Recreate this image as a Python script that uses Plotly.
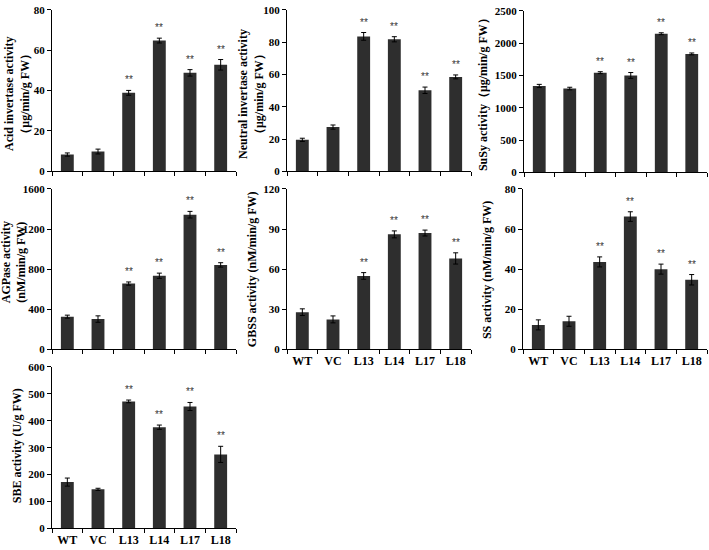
import plotly.graph_objects as go

categories = ["WT", "VC", "L13", "L14", "L17", "L18"]

acid_inv = [8.3, 9.8, 38.9, 64.8, 48.8, 52.8]
acid_inv_err = [0.8, 1.2, 1.2, 1.2, 1.6, 2.6]
neutral_inv = [19.5, 27.4, 83.6, 81.8, 50.2, 58.5]
neutral_inv_err = [1.0, 1.3, 2.4, 1.6, 2.0, 1.2]
susy = [1337, 1297, 1543, 1500, 2146, 1833]
susy_err = [25, 20, 15, 45, 15, 15]
agpase = [326, 302, 656, 734, 1343, 842]
agpase_err = [15, 32, 16, 26, 33, 22]
gbss = [27.8, 22.4, 54.9, 86.0, 87.0, 68.0]
gbss_err = [2.5, 2.6, 2.5, 2.6, 2.2, 4.2]
ss = [12.2, 14.0, 43.6, 66.2, 40.0, 34.7]
ss_err = [2.5, 2.5, 2.5, 2.4, 2.5, 2.6]
sbe = [172, 145, 472, 376, 453, 275]
sbe_err = [15, 4, 5, 8, 15, 30]

significant = ["", "", "**", "**", "**", "**"]

W, H = 709, 550

panels = [
    dict(vals=acid_inv, err=acid_inv_err, ymax=80, dtick=20, x=(52, 236), y=(4, 169),
         title="Acid invertase activity<br>（μg/min/g FW）", tx=17, ty=90, labels=False),
    dict(vals=neutral_inv, err=neutral_inv_err, ymax=100, dtick=20, x=(287, 471), y=(4, 169),
         title="Neutral invertase activity<br>（μg/min/g FW）", tx=251, ty=90, labels=False),
    dict(vals=susy, err=susy_err, ymax=2500, dtick=500, x=(524, 707), y=(5, 170),
         title="SuSy activity（μg/min/g FW）", tx=483, ty=88, labels=False),
    dict(vals=agpase, err=agpase_err, ymax=1600, dtick=400, x=(52, 236), y=(187, 351),
         title="AGPase activity<br>(nM/min/g FW)", tx=14, ty=262, labels=False),
    dict(vals=gbss, err=gbss_err, ymax=120, dtick=30, x=(287, 471), y=(187, 351),
         title="GBSS activity (nM/min/g FW)", tx=252, ty=269, labels=True),
    dict(vals=ss, err=ss_err, ymax=80, dtick=20, x=(523, 707), y=(187, 351),
         title="SS activity (nM/min/g FW)", tx=487, ty=270, labels=True),
    dict(vals=sbe, err=sbe_err, ymax=600, dtick=100, x=(52, 236), y=(369, 534),
         title="SBE activity (U/g FW)", tx=17, ty=450, labels=True),
]

font_family = "Liberation Serif"
fig = go.Figure()
annotations = []

for i, p in enumerate(panels, start=1):
    xa = "x" if i == 1 else f"x{i}"
    ya = "y" if i == 1 else f"y{i}"
    fig.add_trace(go.Bar(
        x=categories, y=p["vals"], xaxis=xa, yaxis=ya,
        marker=dict(color="#2e2e2e", line=dict(width=0)),
        width=0.42,
        error_y=dict(type="data", array=p["err"], color="black", thickness=1, width=2.5),
        showlegend=False,
    ))
    xkey = "xaxis" if i == 1 else f"xaxis{i}"
    ykey = "yaxis" if i == 1 else f"yaxis{i}"
    fig.update_layout(**{
        xkey: dict(
            domain=[p["x"][0] / W, p["x"][1] / W], anchor=ya,
            type="category", categoryorder="array", categoryarray=categories,
            range=[-0.5, 5.5], tickson="boundaries", ticks="outside", ticklen=4,
            tickcolor="black", showline=True, linecolor="black", linewidth=1,
            showgrid=False, zeroline=False, showticklabels=p["labels"],
            tickfont=dict(family=font_family, size=12, color="black", weight="bold"),
            fixedrange=True,
        ),
        ykey: dict(
            domain=[1 - p["y"][1] / H, 1 - p["y"][0] / H], anchor=xa,
            range=[0, p["ymax"]], dtick=p["dtick"], tick0=0, ticks="outside", ticklen=4,
            tickcolor="black", showline=True, linecolor="black", linewidth=1,
            showgrid=False, zeroline=False,
            tickfont=dict(family=font_family, size=11, color="black", weight="bold"),
            fixedrange=True,
        ),
    })
    for c, v, e, s in zip(categories, p["vals"], p["err"], significant):
        if s:
            annotations.append(dict(
                x=c, y=v + e, xref=xa, yref=ya, text=s, showarrow=False,
                yanchor="bottom", yshift=3,
                font=dict(family="Liberation Sans", size=10, color="#333333"),
            ))
    annotations.append(dict(
        x=p["tx"] / W, y=1 - p["ty"] / H, xref="paper", yref="paper",
        text=p["title"], textangle=-90, showarrow=False,
        xanchor="center", yanchor="middle",
        font=dict(family=font_family, size=12, color="black", weight="bold"),
    ))

fig.update_layout(
    width=W, height=H, margin=dict(l=0, r=0, t=0, b=0),
    paper_bgcolor="white", plot_bgcolor="white",
    annotations=annotations, bargap=0.5,
)

fig.write_html("out.html", config={"displayModeBar": False},
               post_script="document.body.style.margin='0';document.body.style.overflow='hidden';")
